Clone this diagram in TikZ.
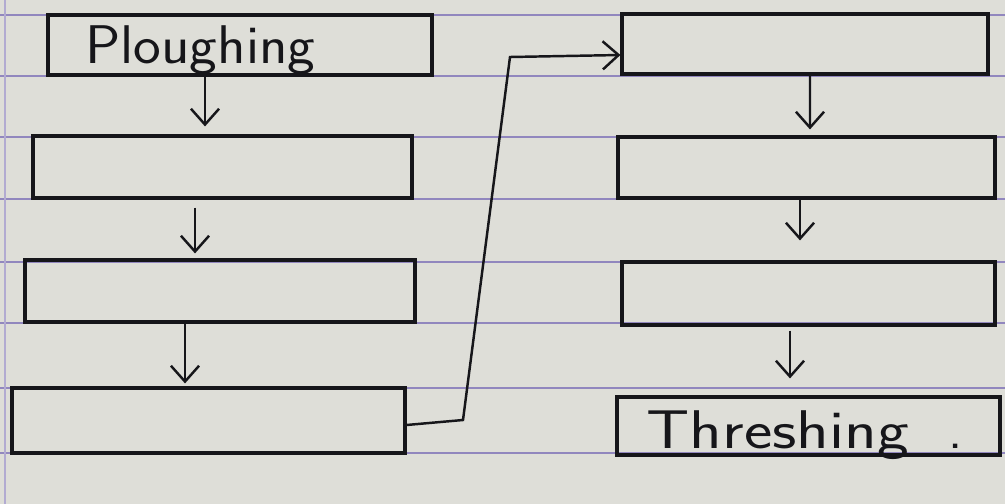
\documentclass[tikz,border=0pt]{standalone}
\usetikzlibrary{arrows.meta,calc}
\definecolor{paper}{RGB}{222,222,216}
\definecolor{rule}{RGB}{145,135,190}
\definecolor{ink}{RGB}{22,22,26}
\tikzset{
  box/.style={draw=ink, line width=1.8pt, rectangle, inner sep=0pt},
  flow/.style={draw=ink, line width=1.4pt, -{Straight Barb[length=9pt,width=16pt,line width=1.4pt]}},
  handtext/.style={font=\sffamily\fontsize{31}{34}\selectfont, text=ink, anchor=base west, inner sep=0pt},
  ruled/.style={draw=rule, line width=1.3pt}
}
\begin{document}
\begin{tikzpicture}[x=0.02cm,y=-0.02cm]
\fill[paper] (0,0) rectangle (1005,504);
\useasboundingbox (0,0) rectangle (1005,504);
\foreach \yy in {15,76,137,199,262,323,388,453}
  \draw[ruled] (0,\yy) -- (1005,\yy);
\draw[draw=rule!70, line width=1pt] (5,0) -- (5,504);
% left column
\node[box, minimum width=384*0.02cm, minimum height=60*0.02cm] (L1) at (240,45) {};
\node[box, minimum width=379*0.02cm, minimum height=62*0.02cm] (L2) at (222.5,167) {};
\node[box, minimum width=390*0.02cm, minimum height=62*0.02cm] (L3) at (220,291) {};
\node[box, minimum width=393*0.02cm, minimum height=65*0.02cm] (L4) at (208.5,420.5) {};
% right column
\node[box, minimum width=366*0.02cm, minimum height=60*0.02cm] (R1) at (805,44) {};
\node[box, minimum width=377*0.02cm, minimum height=61*0.02cm] (R2) at (806.5,167.5) {};
\node[box, minimum width=373*0.02cm, minimum height=63*0.02cm] (R3) at (808.5,293.5) {};
\node[box, minimum width=383*0.02cm, minimum height=58*0.02cm] (R4) at (808.5,426) {};
% texts
\node[handtext, xscale=1.08] (t1) at (85,63) {Ploughing};
\node[handtext, xscale=1.24] (t2) at (646,448) {Threshing};
\node[handtext] (t3) at (948,448) {.};
% arrows
\draw[flow] ($(L1.south)+(-35,0)$) -- ($(L2.north)+(-17.5,-8)$);
\draw[flow] ($(L2.south)+(-27.5,8)$) -- ($(L3.north)+(-25,-5)$);
\draw[flow] ($(L3.south)+(-35,0)$) -- ($(L4.north)+(-23.5,-3)$);
\draw[flow] ($(R1.south)+(5,0)$) -- ($(R2.north)+(3.5,-6)$);
\draw[flow] ($(R2.south)+(-6.5,0)$) -- ($(R3.north)+(-8.5,-20)$);
\draw[flow] ($(R3.south)+(-18.5,4)$) -- ($(R4.north)+(-18.5,-17)$);
\coordinate (c1) at (463,420);
\coordinate (c2) at (510,57);
\draw[flow] (L4.east |- 0,425) -- (c1) -- (c2) -- (R1.west |- 0,55);
\end{tikzpicture}
\end{document}
